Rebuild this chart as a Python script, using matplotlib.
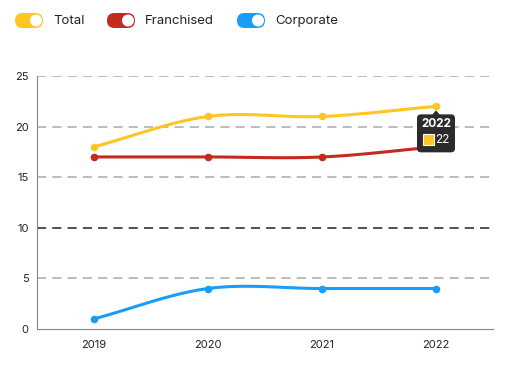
import matplotlib
matplotlib.use("Agg")
import matplotlib.pyplot as plt
import numpy as np
from matplotlib.patches import FancyBboxPatch, Circle, Polygon, Rectangle

plt.rcParams["font.family"] = ["Inter", "DejaVu Sans"]

years = ["2019", "2020", "2021", "2022"]
total = [18, 21, 21, 22]
franchised = [17, 17, 17, 18]
corporate = [1, 4, 4, 4]
series_names = ["Total", "Franchised", "Corporate"]
colors = ["#FFC522", "#C42B1F", "#1A9CFB"]
tooltip_year = "2022"
tooltip_value = 22


def catmull_rom(xs, ys, n=40):
    """Smooth curve through points (cardinal spline, tension 0)."""
    xs = np.asarray(xs, float)
    ys = np.asarray(ys, float)
    px = np.concatenate([[2 * xs[0] - xs[1]], xs, [2 * xs[-1] - xs[-2]]])
    py = np.concatenate([[2 * ys[0] - ys[1]], ys, [2 * ys[-1] - ys[-2]]])
    outx, outy = [], []
    for i in range(1, len(px) - 2):
        t = np.linspace(0, 1, n)
        for arr, out in ((px, outx), (py, outy)):
            p0, p1, p2, p3 = arr[i - 1], arr[i], arr[i + 1], arr[i + 2]
            m1 = (p2 - p0) / 2
            m2 = (p3 - p1) / 2
            h00 = 2 * t**3 - 3 * t**2 + 1
            h10 = t**3 - 2 * t**2 + t
            h01 = -2 * t**3 + 3 * t**2
            h11 = t**3 - t**2
            out.extend(h00 * p1 + h10 * m1 + h01 * p2 + h11 * m2)
    return np.array(outx), np.array(outy)


W, H = 512, 365
fig = plt.figure(figsize=(W / 100, H / 100), dpi=100)
ax = fig.add_axes([37 / W, 1 - 329 / H, 456 / W, 253 / H])

x = np.arange(len(years))
for vals, c in zip([total, franchised, corporate], colors):
    sx, sy = catmull_rom(x, vals)
    ax.plot(sx, sy, color=c, linewidth=2.2, solid_capstyle="round", zorder=3)
    ax.scatter(x, vals, s=30, color=c, zorder=4, linewidths=0)

ax.set_xlim(-0.5, 3.5)
ax.set_ylim(0, 25)
ax.set_yticks([0, 5, 10, 15, 20, 25])
ax.set_xticks(x)
ax.set_xticklabels(years)
for yv in [5, 15, 20, 25]:
    ax.axhline(yv, color="#aaaaaa", linestyle=(0, (6, 4)), linewidth=1.1, zorder=1)
ax.axhline(10, color="#222222", linestyle=(0, (6, 4)), linewidth=1.1, zorder=1)
for s in ["top", "right"]:
    ax.spines[s].set_visible(False)
for s in ["left", "bottom"]:
    ax.spines[s].set_color("#888888")
ax.tick_params(axis="both", length=0, labelsize=8, colors="#222222", pad=8)
ax.tick_params(axis="y", pad=6)

# overlay in pixel coordinates for legend toggles and tooltip
ov = fig.add_axes([0, 0, 1, 1], facecolor="none")
ov.set_xlim(0, W)
ov.set_ylim(H, 0)
ov.axis("off")

lx = [15, 107, 237]
for lxi, name, c in zip(lx, series_names, colors):
    ov.add_patch(FancyBboxPatch((lxi, 13), 28, 15,
                                boxstyle="round,pad=0,rounding_size=7.5",
                                facecolor=c, edgecolor="none"))
    ov.add_patch(Circle((lxi + 21, 20.5), 6, facecolor="white", edgecolor="none"))
    ov.text(lxi + 38, 21, name, fontsize=9.5, va="center", ha="left",
            color="#222222")

# tooltip at 2022 Total
px, py = ov.transData.inverted().transform(ax.transData.transform((3, tooltip_value)))
bw, bh = 38, 38
bx, by = px - bw / 2, py + 8
ov.add_patch(FancyBboxPatch((bx, by), bw, bh,
                            boxstyle="round,pad=0,rounding_size=4",
                            facecolor="#2b2b2b", edgecolor="none", zorder=10))
ov.add_patch(Polygon([(px - 4, by + 0.5), (px + 4, by + 0.5), (px, by - 4)],
                     closed=True, facecolor="#2b2b2b", edgecolor="none", zorder=10))
ov.text(px, by + 10, tooltip_year, color="white", fontsize=8.5,
        fontweight="bold", ha="center", va="center", zorder=11)
ov.add_patch(Rectangle((bx + 6, by + 20), 11, 11, facecolor=colors[0],
                       edgecolor="white", linewidth=0.8, zorder=11))
ov.text(bx + 18, by + 26, str(tooltip_value), color="white",
        fontsize=8.5, ha="left", va="center", zorder=11)

fig.savefig("out.png", dpi=100)
